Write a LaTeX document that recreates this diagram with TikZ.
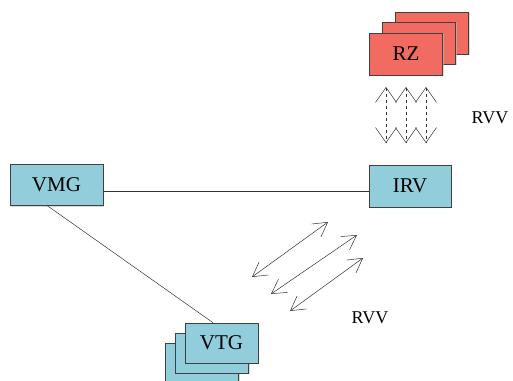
\documentclass[tikz,border=0pt]{standalone}
\usepackage{fontspec}
\setmainfont{Liberation Serif}
\usetikzlibrary{arrows.meta,shadows}
\definecolor{boxblue}{HTML}{92CDDC}
\definecolor{boxred}{HTML}{F26B60}
\tikzset{
  bluebox/.style={draw=black!75, fill=boxblue, line width=0.6pt, minimum width=#1, minimum height=41pt, inner sep=0pt,
     font=\fontsize{21}{24}\selectfont, drop shadow={shadow xshift=1.2pt, shadow yshift=-1.2pt, fill=black!25, opacity=0.6}},
  bluebox/.default=93pt,
  redbox/.style={draw=black!75, fill=boxred, line width=0.6pt, minimum width=73pt, minimum height=42pt, inner sep=0pt,
     font=\fontsize{21}{24}\selectfont, drop shadow={shadow xshift=1.2pt, shadow yshift=-1.2pt, fill=black!25, opacity=0.6}},
  lbl/.style={font=\fontsize{18}{21}\selectfont, inner sep=0pt},
  link/.style={draw=black!80, line width=0.5pt},
  zig/.style={draw=black!80, line width=0.5pt, dashed, {Straight Barb[length=15pt,width=21pt]}-{Straight Barb[length=15pt,width=21pt]}},
  diag/.style={draw=black!80, line width=0.5pt, {Straight Barb[length=14pt,width=16pt]}-{Straight Barb[length=14pt,width=16pt]}},
}
\begin{document}
\begin{tikzpicture}[x=1pt,y=-1pt]
\useasboundingbox (0,0) rectangle (513,380);
\begin{scope}
\clip (0,0) rectangle (513,380);
% RZ stack
\node[redbox] (rz3) at (432,33) {};
\node[redbox] (rz2) at (419,43) {};
\node[redbox] (rz) at (406,54) {RZ};
% VTG stack
\node[bluebox=73pt, minimum height=40pt] (vtg3) at (202,363) {};
\node[bluebox=73pt, minimum height=40pt] (vtg2) at (212,353) {};
\node[bluebox=73pt, minimum height=40pt] (vtg) at (221.5,343) {VTG};
% main boxes
\node[bluebox=93pt] (vmg) at (56.5,185) {VMG};
\node[bluebox=82pt, minimum height=42pt] (irv) at (410,186) {IRV};
\end{scope}
% labels
\node[lbl] (rvv1) at (490,118) {RVV};
\node[lbl] (rvv2) at (370,318) {RVV};
% connectors
\draw[link] (vmg.east |- 0,191) -- (irv.west |- 0,191);
\coordinate (vb) at (47,205.5);
\draw[link] (vb) -- (vtg.north west -| 213,0);
% vertical dashed double arrows
\coordinate (z1a) at (386,87); \coordinate (z1b) at (386,143);
\coordinate (z2a) at (406,87); \coordinate (z2b) at (406,143);
\coordinate (z3a) at (426,87); \coordinate (z3b) at (426,143);
\draw[zig] (z1a) -- (z1b);
\draw[zig] (z2a) -- (z2b);
\draw[zig] (z3a) -- (z3b);
% diagonal double arrows
\coordinate (d1a) at (252,277); \coordinate (d1b) at (328,222);
\coordinate (d2a) at (271,294); \coordinate (d2b) at (357,235);
\coordinate (d3a) at (290,311); \coordinate (d3b) at (363,258);
\draw[diag] (d1a) -- (d1b);
\draw[diag] (d2a) -- (d2b);
\draw[diag] (d3a) -- (d3b);
\end{tikzpicture}
\end{document}
